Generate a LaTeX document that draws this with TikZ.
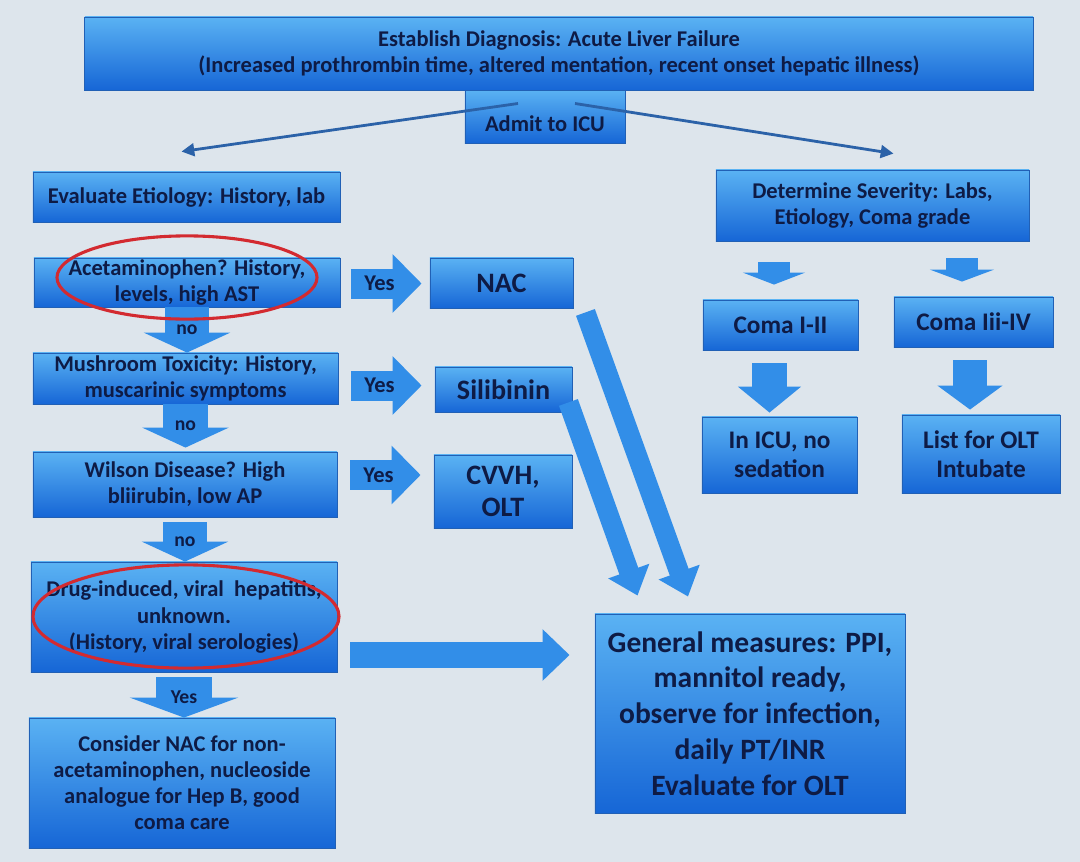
\documentclass[tikz,border=0pt]{standalone}
\usepackage{fontspec}
\setmainfont{Carlito}
\usetikzlibrary{arrows.meta, calc}

\definecolor{slide}{HTML}{DDE5EC}
\definecolor{boxtop}{HTML}{5AB2F3}
\definecolor{boxmid}{HTML}{2E8BE8}
\definecolor{boxbot}{HTML}{1666D6}
\definecolor{boxline}{HTML}{2160B5}
\definecolor{ink}{HTML}{0E1B45}
\definecolor{flow}{HTML}{328EE8}
\definecolor{thinflow}{HTML}{2B62A8}
\definecolor{ring}{HTML}{D32A30}

\begin{document}
\begin{tikzpicture}[x=0.025cm, y=-0.025cm,
    box/.style={draw=boxline, line width=0.6pt, top color=boxtop, middle color=boxmid, bottom color=boxbot,
        text=ink, align=center, inner sep=0pt, font=\fontsize{16}{18.5}\selectfont\bfseries},
    bigbox/.style={box, font=\fontsize{20}{23}\selectfont\bfseries},
    comabox/.style={box, font=\fontsize{18}{21}\selectfont\bfseries},
    block/.style n args={3}{draw=flow, line width=#1, -{Triangle[length=#3, width=#2]}},
    tag/.style={text=ink, inner sep=0pt, font=\fontsize{14}{14}\selectfont\bfseries},
    yestag/.style={tag, font=\fontsize{16}{16}\selectfont\bfseries},
    pointer/.style={draw=thinflow, line width=2pt, -{Triangle[length=0.32cm, width=0.32cm]}},
    redring/.style={draw=ring, line width=2.2pt}]

    % Slide background
    \fill[slide] (0,0) rectangle (1080,862);
    \useasboundingbox (0,0) rectangle (1080,862);

    % Top of the chart
    \node[box, minimum width=4cm, minimum height=1.325cm, text height=1.025cm, text depth=0.3cm]
        (icu) at (545,116.5) {Admit to ICU};
    \node[box, minimum width=23.7cm, minimum height=1.825cm] (diag) at (559,53.5)
        {Establish Diagnosis: Acute Liver Failure\\(Increased prothrombin time, altered mentation, recent onset hepatic illness)};

    % Etiology column
    \node[box, minimum width=7.675cm, minimum height=1.25cm] (eval) at (186.5,197) {Evaluate Etiology: History, lab};
    \node[box, minimum width=7.65cm, minimum height=1.225cm] (acet) at (187,282.5) {Acetaminophen? History,\\levels, high AST};
    \node[box, minimum width=7.625cm, minimum height=1.275cm] (mush) at (185.5,378.5) {Mushroom Toxicity: History,\\muscarinic symptoms};
    \node[box, minimum width=7.6cm, minimum height=1.625cm] (wils) at (185,484.5) {Wilson Disease? High\\bliirubin, low AP};
    \node[box, minimum width=7.65cm, minimum height=2.75cm] (drug) at (184,617) {Drug-induced, viral~ hepatitis,\\unknown.\\(History, viral serologies)};
    \node[box, minimum width=7.65cm, minimum height=3.25cm] (cons) at (182,783) {Consider NAC for non-\\acetaminophen, nucleoside\\analogue for Hep B, good\\coma care};

    % Treatments
    \node[bigbox, minimum width=3.575cm, minimum height=1.25cm] (nac) at (501.5,283) {NAC};
    \node[bigbox, minimum width=3.425cm, minimum height=1.125cm] (sili) at (503.5,389.5) {Silibinin};
    \node[bigbox, minimum width=3.45cm, minimum height=1.825cm] (cvvh) at (503,491.5) {CVVH,\\OLT};
    \node[box, minimum width=7.75cm, minimum height=4.975cm, font=\fontsize{21}{25.5}\selectfont\bfseries] (gen) at (750,713.5)
        {General measures: PPI,\\mannitol ready,\\observe for infection,\\daily PT/INR\\Evaluate for OLT};

    % Severity column
    \node[box, minimum width=7.825cm, minimum height=1.775cm] (sev) at (872.5,205.5) {Determine Severity: Labs,\\Etiology, Coma grade};
    \node[comabox, minimum width=3.875cm, minimum height=1.25cm] (comaA) at (780.5,325) {Coma I-II};
    \node[comabox, minimum width=3.975cm, minimum height=1.25cm] (comaB) at (973.5,322) {Coma Iii-IV};
    \node[comabox, minimum width=3.875cm, minimum height=1.9cm] (incu) at (779.5,455) {In ICU, no\\sedation};
    \node[comabox, minimum width=3.95cm, minimum height=1.95cm] (list) at (981,454) {List for OLT\\Intubate};

    % Thin arrows out of the ICU box
    \draw[pointer] ($(icu.center)+(-27,-13)$) -- ($(eval.north)+(-5,-20)$);
    \draw[pointer] ($(icu.center)+(30,-13)$) -- ($(sev.north)+(21,-16)$);

    % "no" arrows down the etiology column
    \draw[block={1.1cm}{2.15cm}{0.5cm}] (acet.south) -- (acet.south |- mush.north) node[midway, tag] {no};
    \draw[block={1.1cm}{2.15cm}{0.5cm}] (mush.south) -- ($(mush.south |- wils.north)+(0,-4)$) node[midway, tag] {no};
    \draw[block={1.1cm}{2.15cm}{0.5cm}] ($(wils.south)+(0,5)$) -- (wils.south |- drug.north) node[midway, tag] {no};
    \draw[block={1.4cm}{2.7cm}{0.5cm}] ($(drug.south)+(0,5)$) -- (drug.south |- cons.north) node[midway, tag] {Yes};

    % "Yes" arrows to the treatments
    \draw[block={0.75cm}{1.425cm}{0.725cm}] ($(acet.east)+(11,1)$) -- ($(nac.west)+(-8,0.5)$) node[pos=0.4, yestag] {Yes};
    \draw[block={0.75cm}{1.425cm}{0.725cm}] ($(mush.east)+(13,7)$) -- ($(sili.west)+(-13,-4)$) node[pos=0.4, yestag] {Yes};
    \draw[block={0.75cm}{1.425cm}{0.725cm}] ($(wils.east)+(13,-9.5)$) -- ($(cvvh.west)+(-13,-16.5)$) node[pos=0.4, yestag] {Yes};

    % Into the general measures
    \draw[block={0.65cm}{1.25cm}{0.675cm}] ($(drug.east)+(13,38)$) -- ($(gen.west)+(-25,-58.5)$);
    \draw[block={0.5cm}{1.05cm}{0.65cm}] ($(nac.south east)+(12,4)$) -- ($(gen.north)+(-62,-17)$);
    \draw[block={0.5cm}{1.05cm}{0.65cm}] ($(sili.south east)+(-4,-10)$) -- ($(gen.north west)+(43,-18)$);

    % Severity arrows
    \draw[block={0.8cm}{1.55cm}{0.3cm}] ($(sev.south -| comaA.north)+(-6.5,21)$) -- ($(comaA.north)+(-6.5,-15)$);
    \draw[block={0.78cm}{1.6cm}{0.3cm}] ($(sev.south -| comaB.north)+(-11.5,17)$) -- ($(comaB.north)+(-11.5,-15)$);
    \draw[block={0.875cm}{1.55cm}{0.65cm}] ($(comaA.south)+(-11,13)$) -- ($(incu.north)+(-10,-4)$);
    \draw[block={0.85cm}{1.6cm}{0.6cm}] ($(comaB.south)+(-3.5,13)$) -- ($(list.north)+(-11,-5)$);

    % Red rings
    \draw[redring] (187,277.5) ellipse [x radius=3.25cm, y radius=1.04cm];
    \draw[redring] (186,616.5) ellipse [x radius=3.825cm, y radius=1.29cm];
\end{tikzpicture}
\end{document}
